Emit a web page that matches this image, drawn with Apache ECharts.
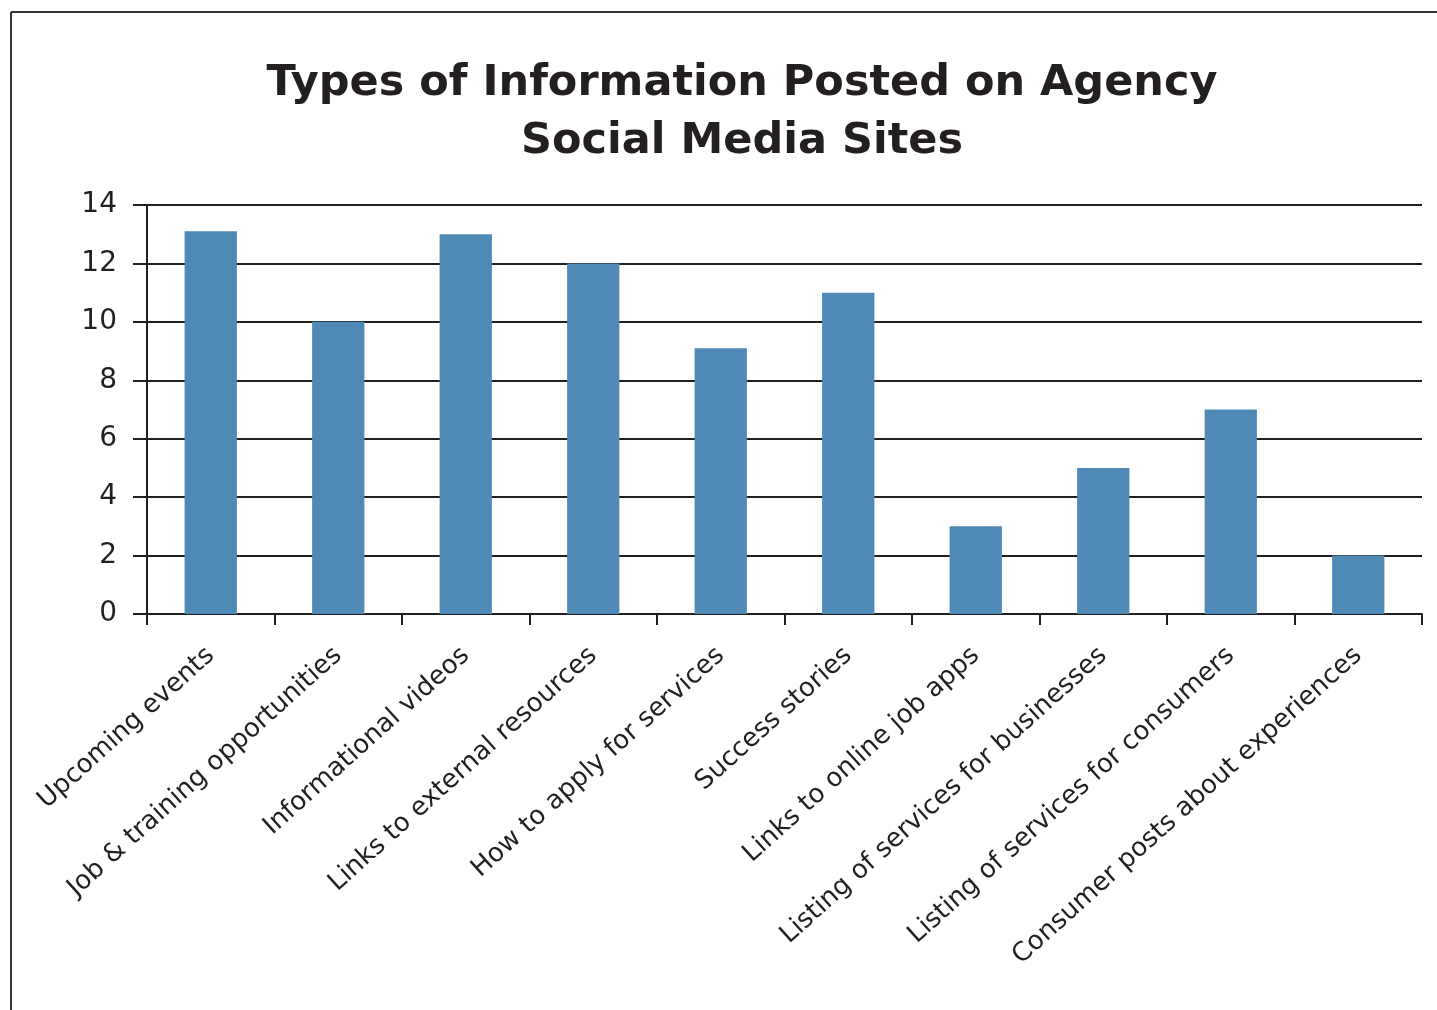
<!DOCTYPE html>
<html>
<head>
<meta charset="utf-8">
<script src="https://cdn.jsdelivr.net/npm/echarts@6/dist/echarts.min.js"></script>
<style>
html,body{margin:0;padding:0;background:#fff;}
#chart{width:1437px;height:1010px;}
</style>
</head>
<body>
<div id="chart"></div>
<script>
const categories = [
  "Upcoming events",
  "Job & training opportunities",
  "Informational videos",
  "Links to external resources",
  "How to apply for services",
  "Success stories",
  "Links to online job apps",
  "Listing of services for businesses",
  "Listing of services for consumers",
  "Consumer posts about experiences"
];
const values = [13.1, 10, 13, 12, 9.1, 11, 3, 5, 7, 2];
const yTicks = { min: 0, max: 14, interval: 2 };
const titleText = "Types of Information Posted on Agency\nSocial Media Sites";

const chart = echarts.init(document.getElementById('chart'), null, {renderer: 'canvas'});
const dark = '#231f20';
const font = '"DejaVu Sans", Verdana, sans-serif';
chart.setOption({
  animation: false,
  backgroundColor: '#fff',
  title: {
    text: titleText,
    left: 737,
    top: 50,
    textAlign: 'center',
    textStyle: {
      fontFamily: font,
      fontWeight: 'bold',
      fontSize: 43,
      lineHeight: 58,
      color: dark
    }
  },
  graphic: [
    { type: 'line', shape: { x1: 11, y1: 12, x2: 1437, y2: 12 }, style: { stroke: '#333', lineWidth: 2 } },
    { type: 'line', shape: { x1: 11, y1: 12, x2: 11, y2: 1010 }, style: { stroke: '#333', lineWidth: 2 } }
  ],
  grid: { left: 147, right: 15, top: 205, bottom: 396, containLabel: false },
  xAxis: {
    type: 'category',
    data: categories,
    axisLine: { show: true, lineStyle: { color: dark, width: 2 } },
    axisTick: { show: true, length: 11, lineStyle: { color: dark, width: 2 } },
    axisLabel: {
      rotate: 42,
      interval: 0,
      margin: 38,
      fontFamily: font,
      fontSize: 26,
      color: dark
    }
  },
  yAxis: {
    type: 'value',
    min: yTicks.min,
    max: yTicks.max,
    interval: yTicks.interval,
    axisLine: { show: true, lineStyle: { color: dark, width: 2 } },
    axisTick: { show: true, length: 14, lineStyle: { color: dark, width: 2 } },
    splitLine: { show: true, lineStyle: { color: dark, width: 2 } },
    axisLabel: {
      margin: 30,
      fontFamily: font,
      fontSize: 28,
      color: dark
    }
  },
  series: [{
    type: 'bar',
    data: values,
    barCategoryGap: '59%',
    itemStyle: { color: '#4f89b6' }
  }]
});
</script>
</body>
</html>
